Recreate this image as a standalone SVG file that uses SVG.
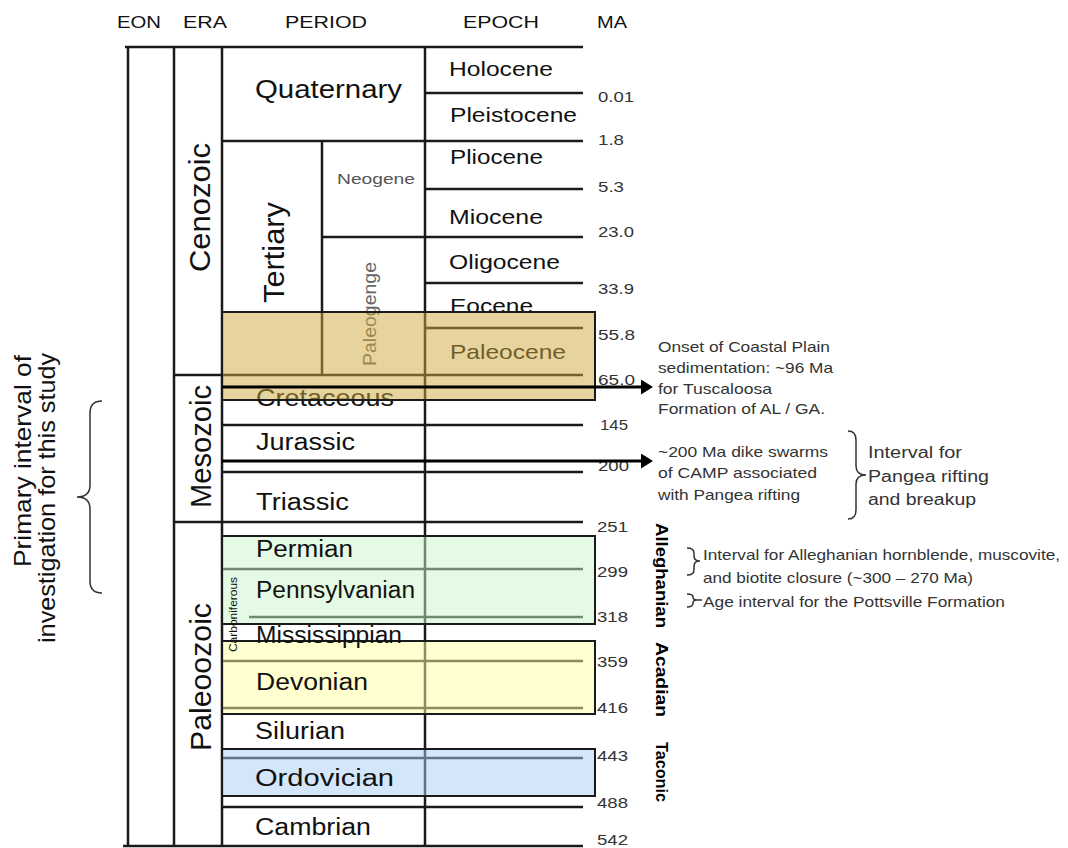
<svg xmlns="http://www.w3.org/2000/svg" width="1068" height="848" viewBox="0 0 1068 848">
<style>
text{font-family:"Liberation Sans",Arial,sans-serif;fill:#111}
.ln{stroke:#1a1a1a;stroke-width:2.5;fill:none}
.hd{font-size:17px}
.ep{font-size:21px}
.pe{font-size:23px}
.era{font-size:30px}
.ma{font-size:15px;fill:#333}
.an{font-size:14.5px;fill:#333}
.an2{font-size:16px;fill:#333}
.box{stroke:#1a1a1a;stroke-width:2;fill-opacity:.5}
.arr{stroke:#000;stroke-width:3}
.br{stroke:#333;stroke-width:1.5;fill:none}
.bold{font-size:17px;font-weight:bold;fill:#000}
</style>
<defs>
<marker id="ah" markerWidth="4" markerHeight="5" refX="0" refY="2.5" orient="auto" markerUnits="strokeWidth"><path d="M0,0 L4,2.5 L0,5 Z" fill="#000"/></marker>
</defs>
<rect width="1068" height="848" fill="#fff"/>

<g id="headers">
<text class="hd" x="117" y="28" textLength="44" lengthAdjust="spacingAndGlyphs">EON</text>
<text class="hd" x="183" y="28" textLength="44" lengthAdjust="spacingAndGlyphs">ERA</text>
<text class="hd" x="285" y="28" textLength="82" lengthAdjust="spacingAndGlyphs">PERIOD</text>
<text class="hd" x="463" y="28" textLength="76" lengthAdjust="spacingAndGlyphs">EPOCH</text>
<text class="hd" x="597" y="28" textLength="30" lengthAdjust="spacingAndGlyphs">MA</text>
</g>

<g id="grid">
<path class="ln" d="M125,47H583 M425,93H583 M221,141H583 M425,189H583 M322,237H583 M425,283H583 M425,328H583 M174,375H583 M222,425H583 M222,472H583 M174,522H583 M222,569H583 M249,617H583 M222,661H583 M222,708H583 M222,758H583 M222,807H583 M123,846H583"/>
<path class="ln" d="M128,47V846 M174,47V846 M222,47V846 M425,47V846 M322,141V375"/>
</g>

<g id="under-brown">
<text class="ep" x="450" y="313" textLength="83" lengthAdjust="spacingAndGlyphs">Eocene</text>
<text class="ep" x="450" y="359" textLength="116" lengthAdjust="spacingAndGlyphs">Paleocene</text>
<text class="pe" x="256" y="406" textLength="138" lengthAdjust="spacingAndGlyphs">Cretaceous</text>
<text style="font-size:18px;fill:#666" transform="translate(376,314) rotate(-90)" text-anchor="middle" textLength="104" lengthAdjust="spacingAndGlyphs">Paleogenge</text>
</g>

<g id="highlight-boxes">
<rect id="box-paleogene" class="box" x="222" y="312" width="373" height="88" fill="rgb(205,168,60)"/>
<rect id="box-alleghanian" class="box" x="222" y="536" width="373" height="88" fill="rgb(201,245,201)"/>
<rect id="box-acadian" class="box" x="222" y="641" width="373" height="73" fill="rgb(255,255,161)"/>
<rect id="box-taconic" class="box" x="222" y="749" width="373" height="47" fill="rgb(169,205,245)"/>
</g>

<g id="eras">
<text class="era" transform="translate(210,207.5) rotate(-90)" text-anchor="middle" textLength="129" lengthAdjust="spacingAndGlyphs">Cenozoic</text>
<text class="era" transform="translate(211,446.5) rotate(-90)" text-anchor="middle" textLength="123" lengthAdjust="spacingAndGlyphs">Mesozoic</text>
<text class="era" transform="translate(211,677) rotate(-90)" text-anchor="middle" textLength="148" lengthAdjust="spacingAndGlyphs">Paleoozoic</text>
</g>

<g id="periods">
<text style="font-size:25px" x="255" y="98" textLength="147" lengthAdjust="spacingAndGlyphs">Quaternary</text>
<text style="font-size:29px" transform="translate(284,252.5) rotate(-90)" text-anchor="middle" textLength="101" lengthAdjust="spacingAndGlyphs">Tertiary</text>
<text style="font-size:15.5px;fill:#555" x="337" y="184" textLength="78" lengthAdjust="spacingAndGlyphs">Neogene</text>
<text class="pe" x="256" y="450" textLength="99" lengthAdjust="spacingAndGlyphs">Jurassic</text>
<text class="pe" x="256" y="510" textLength="93" lengthAdjust="spacingAndGlyphs">Triassic</text>
<text class="pe" x="256" y="557" textLength="97" lengthAdjust="spacingAndGlyphs">Permian</text>
<text class="pe" x="256" y="598" textLength="159" lengthAdjust="spacingAndGlyphs">Pennsylvanian</text>
<text class="pe" x="256" y="643" textLength="146" lengthAdjust="spacingAndGlyphs">Mississippian</text>
<text style="font-size:11px" transform="translate(237,614.5) rotate(-90)" text-anchor="middle" textLength="75" lengthAdjust="spacingAndGlyphs">Carboniferous</text>
<text class="pe" x="256" y="690" textLength="112" lengthAdjust="spacingAndGlyphs">Devonian</text>
<text class="pe" x="255" y="739" textLength="90" lengthAdjust="spacingAndGlyphs">Silurian</text>
<text class="pe" x="255" y="786" textLength="139" lengthAdjust="spacingAndGlyphs">Ordovician</text>
<text class="pe" x="255" y="835" textLength="116" lengthAdjust="spacingAndGlyphs">Cambrian</text>
</g>

<g id="epochs">
<text class="ep" x="449" y="76" textLength="104" lengthAdjust="spacingAndGlyphs">Holocene</text>
<text class="ep" x="450" y="122" textLength="127" lengthAdjust="spacingAndGlyphs">Pleistocene</text>
<text class="ep" x="450" y="164" textLength="93" lengthAdjust="spacingAndGlyphs">Pliocene</text>
<text class="ep" x="449" y="224" textLength="94" lengthAdjust="spacingAndGlyphs">Miocene</text>
<text class="ep" x="449" y="269" textLength="111" lengthAdjust="spacingAndGlyphs">Oligocene</text>
</g>

<g id="ma">
<text class="ma" x="598" y="102" textLength="36" lengthAdjust="spacingAndGlyphs">0.01</text>
<text class="ma" x="598" y="145" textLength="26" lengthAdjust="spacingAndGlyphs">1.8</text>
<text class="ma" x="598" y="192" textLength="26" lengthAdjust="spacingAndGlyphs">5.3</text>
<text class="ma" x="598" y="237" textLength="36" lengthAdjust="spacingAndGlyphs">23.0</text>
<text class="ma" x="598" y="294" textLength="36" lengthAdjust="spacingAndGlyphs">33.9</text>
<text class="ma" x="598" y="340" textLength="37" lengthAdjust="spacingAndGlyphs">55.8</text>
<text class="ma" x="598" y="385" textLength="37" lengthAdjust="spacingAndGlyphs">65.0</text>
<text class="ma" x="600" y="430" textLength="28" lengthAdjust="spacingAndGlyphs">145</text>
<text class="ma" x="598" y="471" textLength="31" lengthAdjust="spacingAndGlyphs">200</text>
<text class="ma" x="597" y="532" textLength="31" lengthAdjust="spacingAndGlyphs">251</text>
<text class="ma" x="597" y="577" textLength="31" lengthAdjust="spacingAndGlyphs">299</text>
<text class="ma" x="597" y="622" textLength="31" lengthAdjust="spacingAndGlyphs">318</text>
<text class="ma" x="597" y="667" textLength="31" lengthAdjust="spacingAndGlyphs">359</text>
<text class="ma" x="597" y="713" textLength="31" lengthAdjust="spacingAndGlyphs">416</text>
<text class="ma" x="597" y="761" textLength="31" lengthAdjust="spacingAndGlyphs">443</text>
<text class="ma" x="597" y="808" textLength="31" lengthAdjust="spacingAndGlyphs">488</text>
<text class="ma" x="597" y="845" textLength="31" lengthAdjust="spacingAndGlyphs">542</text>
</g>

<g id="orogenies">
<text class="bold" transform="translate(656,523) rotate(90)" textLength="105" lengthAdjust="spacingAndGlyphs">Alleghanian</text>
<text class="bold" transform="translate(656,642) rotate(90)" textLength="75" lengthAdjust="spacingAndGlyphs">Acadian</text>
<text class="bold" transform="translate(656,742) rotate(90)" textLength="60" lengthAdjust="spacingAndGlyphs">Taconic</text>
</g>

<g id="note-coastal-plain">
<text class="an" x="658" y="352" textLength="172" lengthAdjust="spacingAndGlyphs">Onset of Coastal Plain</text>
<text class="an" x="658" y="373" textLength="175" lengthAdjust="spacingAndGlyphs">sedimentation: ~96 Ma</text>
<text class="an" x="658" y="394" textLength="114" lengthAdjust="spacingAndGlyphs">for Tuscaloosa</text>
<text class="an" x="658" y="414" textLength="167" lengthAdjust="spacingAndGlyphs">Formation of AL / GA.</text>
</g>

<g id="note-camp">
<text class="an" x="658" y="457" textLength="170" lengthAdjust="spacingAndGlyphs">~200 Ma dike swarms</text>
<text class="an" x="658" y="478" textLength="159" lengthAdjust="spacingAndGlyphs">of CAMP associated</text>
<text class="an" x="658" y="500" textLength="142" lengthAdjust="spacingAndGlyphs">with Pangea rifting</text>
</g>

<g id="note-pangea">
<text class="an2" x="868" y="458" textLength="94" lengthAdjust="spacingAndGlyphs">Interval for</text>
<text class="an2" x="868" y="482" textLength="121" lengthAdjust="spacingAndGlyphs">Pangea rifting</text>
<text class="an2" x="868" y="505" textLength="108" lengthAdjust="spacingAndGlyphs">and breakup</text>
</g>

<g id="note-closure">
<text class="an" x="703" y="560" textLength="357" lengthAdjust="spacingAndGlyphs">Interval for Alleghanian hornblende, muscovite,</text>
<text class="an" x="703" y="583" textLength="270" lengthAdjust="spacingAndGlyphs">and biotite closure (~300 – 270 Ma)</text>
</g>

<g id="note-pottsville">
<text class="an" x="703" y="607" textLength="302" lengthAdjust="spacingAndGlyphs">Age interval for the Pottsville Formation</text>
</g>

<g id="note-primary">
<text style="font-size:24px" transform="translate(31,355) rotate(-90)" text-anchor="end" textLength="212" lengthAdjust="spacingAndGlyphs">Primary interval of</text>
<text style="font-size:24px" transform="translate(55,353) rotate(-90)" text-anchor="end" textLength="290" lengthAdjust="spacingAndGlyphs">investigation for this study</text>
</g>

<g id="connectors">
<line class="arr" x1="222" y1="387" x2="641" y2="387" marker-end="url(#ah)"/>
<line class="arr" x1="222" y1="461" x2="641" y2="461" marker-end="url(#ah)"/>
<path class="br" d="M102,401 Q90,401 90,413 L90,485 Q90,497 77,497 Q90,497 90,509 L90,581 Q90,593 102,593"/>
<path class="br" d="M848,431 Q856,431 856,440 L856,466 Q856,475 866,475 Q856,475 856,484 L856,510 Q856,519 848,519"/>
<path class="br" d="M687,548 Q694,548 694,553 L694,556 Q694,561 700,561 Q694,561 694,566 L694,570 Q694,575 687,575"/>
<path class="br" d="M687,594 Q693,594 693,597 Q693,600 697,600 L702,600 M697,600 Q693,600 693,603 Q693,607 687,607"/>
</g>
</svg>
